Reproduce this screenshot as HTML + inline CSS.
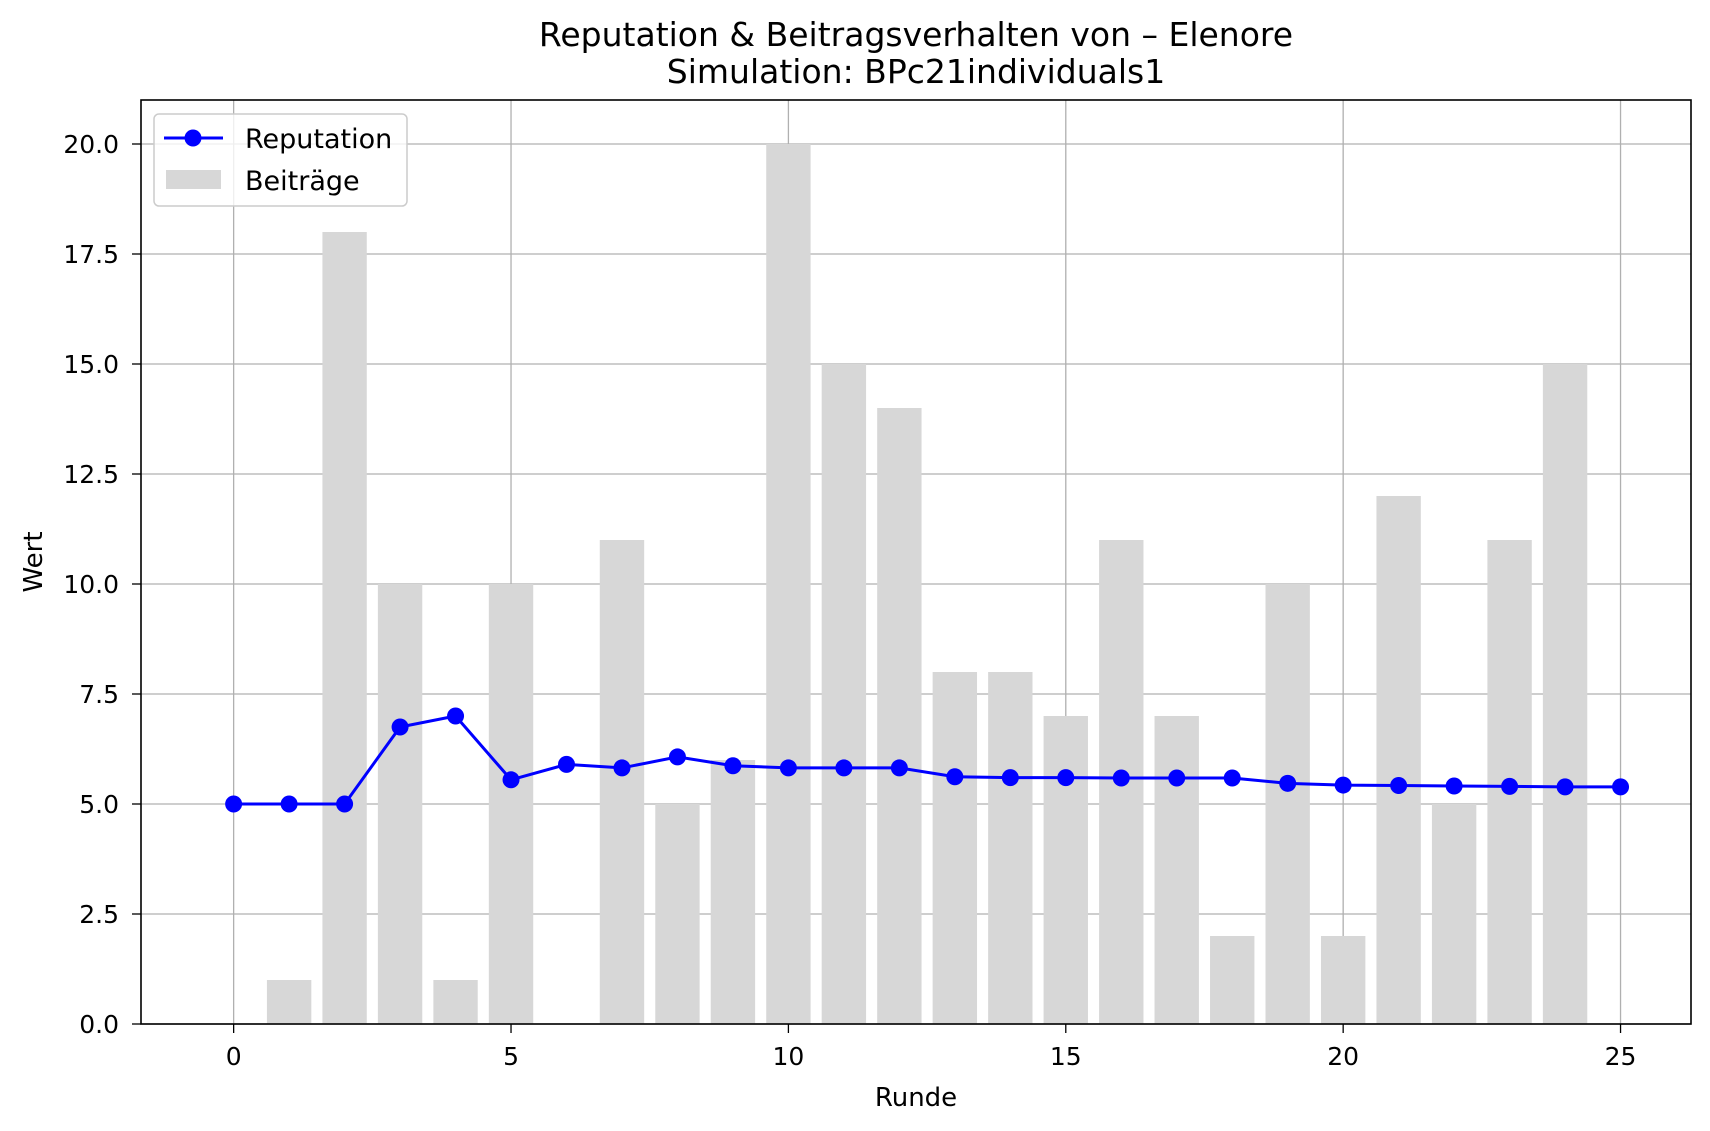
<!DOCTYPE html>
<html><head><meta charset="utf-8"><style>body{margin:0;background:#fff}svg{display:block;font-family:"DejaVu Sans","Liberation Sans",sans-serif}</style></head>
<body>
<svg id="chart" width="1710" height="1131">
<g id="grid"></g><g id="bars"></g><g id="line"></g><g id="axes"></g>
</svg>
<script>
const rounds=[0,1,2,3,4,5,6,7,8,9,10,11,12,13,14,15,16,17,18,19,20,21,22,23,24,25];
const contributions=[0,1,18,10,1,10,0,11,5,6,20,15,14,8,8,7,11,7,2,10,2,12,5,11,15];
const reputation=[5,5,5,6.75,7,5.55,5.9,5.82,6.07,5.87,5.82,5.82,5.82,5.62,5.6,5.6,5.59,5.59,5.59,5.47,5.43,5.42,5.41,5.4,5.39,5.39];
const xTicks=[0,5,10,15,20,25];
const yTicks=[0,2.5,5,7.5,10,12.5,15,17.5,20];
const yTickLabels=["0.0","2.5","5.0","7.5","10.0","12.5","15.0","17.5","20.0"];
const L=141,R=1691,T=100,B=1024,xmin=-1.67,xmax=26.27,ymin=0,ymax=21;
const X=v=>L+(v-xmin)/(xmax-xmin)*(R-L);
const Y=v=>B-(v-ymin)/(ymax-ymin)*(B-T);
const NS="http://www.w3.org/2000/svg";
function mk(tag,attrs,parent,text){const e=document.createElementNS(NS,tag);for(const k in attrs)e.setAttribute(k,attrs[k]);if(text!==undefined)e.textContent=text;(typeof parent==='string'?document.getElementById(parent):parent).appendChild(e);return e;}
xTicks.forEach(t=>{const e=mk('line',{x1:X(t),x2:X(t),y1:T,y2:B,stroke:'#b0b0b0','stroke-width':1.3},'grid');

});
yTicks.forEach(t=>{const e=mk('line',{x1:L,x2:R,y1:Y(t),y2:Y(t),stroke:'#b0b0b0','stroke-width':1.3},'grid');

});
contributions.forEach((v,i)=>{const e=mk('rect',{x:X(rounds[i]-0.4),y:Y(v),width:X(0.8)-X(0),height:Y(0)-Y(v),fill:'#d7d7d7'},'bars');

});
const pts=reputation.map((v,i)=>X(rounds[i])+','+Y(v)).join(' ');
const pl=mk('polyline',{points:pts,fill:'none',stroke:'#0000ff','stroke-width':3},'line');


reputation.forEach((v,i)=>{const e=mk('circle',{cx:X(rounds[i]),cy:Y(v),r:8.5,fill:'#0000ff'},'line');

});
const ax=document.getElementById('axes');
const fr=mk('rect',{x:L,y:T,width:R-L,height:B-T,fill:'none',stroke:'#000','stroke-width':1.6},ax);


xTicks.forEach(t=>{mk('line',{x1:X(t),x2:X(t),y1:B,y2:B+9,stroke:'#000','stroke-width':1.3},ax);
const e=mk('text',{x:X(t),y:B+41,'text-anchor':'middle','font-size':25},ax,String(t));

});
yTicks.forEach((t,i)=>{mk('line',{x1:L-9,x2:L,y1:Y(t),y2:Y(t),stroke:'#000','stroke-width':1.3},ax);
const e=mk('text',{x:L-22,y:Y(t)+9,'text-anchor':'end','font-size':25},ax,yTickLabels[i]);

});
</script>
<svg style="position:absolute;left:0;top:0" width="1710" height="1131">
<text x="916" y="46" text-anchor="middle" font-size="33">Reputation &amp; Beitragsverhalten von – Elenore</text>
<text x="916" y="83" text-anchor="middle" font-size="33">Simulation: BPc21individuals1</text>
<text x="916" y="1106" text-anchor="middle" font-size="26">Runde</text>
<text transform="translate(42,562) rotate(-90)" text-anchor="middle" font-size="26">Wert</text>
<g>
<rect x="154" y="114" width="253" height="92" rx="5" fill="#fff" fill-opacity="0.8" stroke="#ccc" stroke-width="1.5"/>
<line x1="164" x2="223" y1="138" y2="138" stroke="#0000ff" stroke-width="3"/>
<circle cx="193" cy="138" r="8.5" fill="#0000ff"/>
<text x="245" y="148" font-size="27">Reputation</text>
<rect x="166" y="170" width="55" height="19" fill="#d7d7d7"/>
<text x="245" y="190" font-size="27">Beiträge</text>
</g>
</svg>
</body></html>
